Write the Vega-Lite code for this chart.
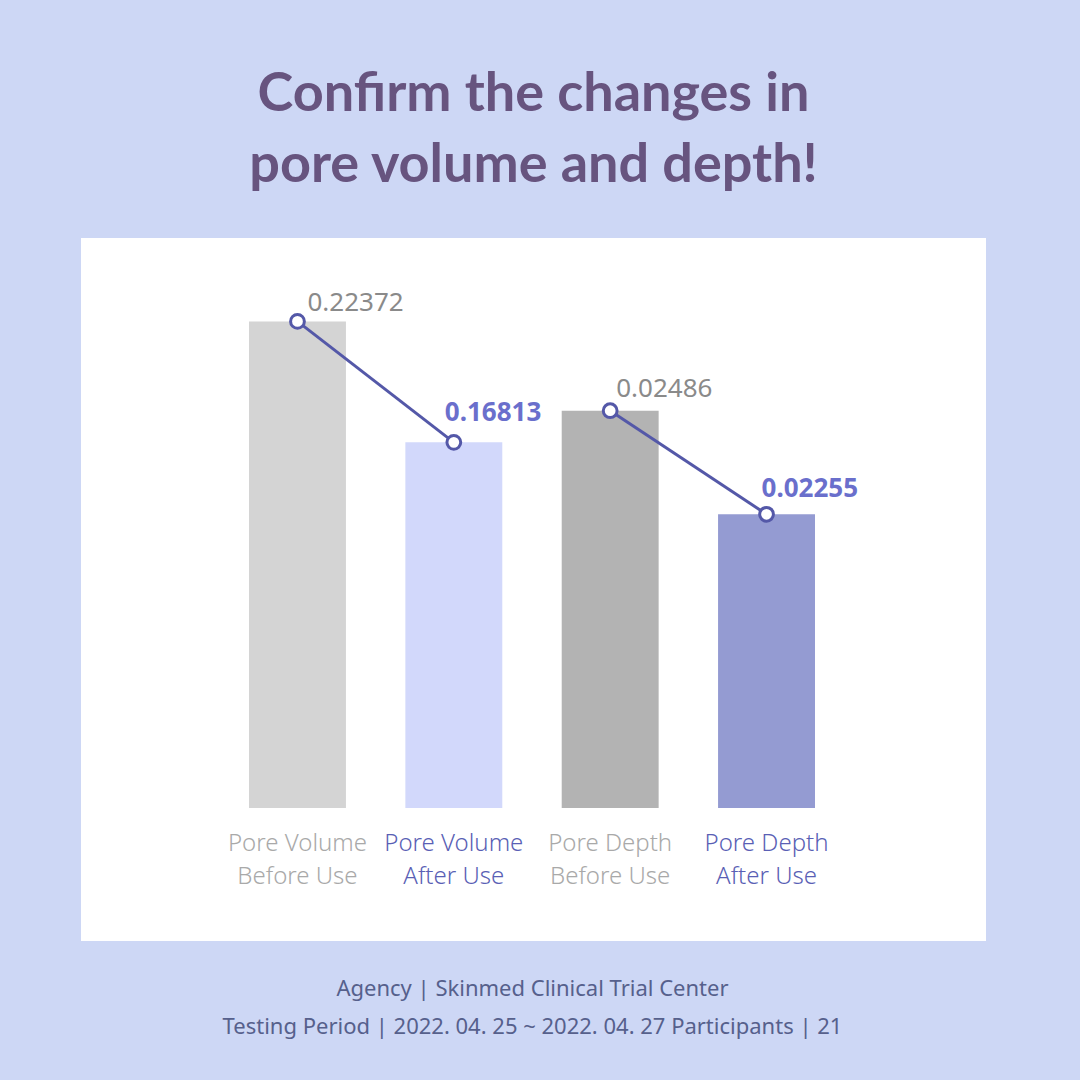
{
  "$schema": "https://vega.github.io/schema/vega-lite/v6.json",
  "width": 905,
  "height": 703,
  "autosize": {"type": "none"},
  "padding": {"left": 81, "top": 238, "right": 94, "bottom": 139},
  "background": "#cdd7f5",
  "view": {"fill": "white", "stroke": null},
  "title": {
    "text": ["Confirm the changes in", "pore volume and depth!"],
    "font": "Lato",
    "fontSize": 54,
    "fontWeight": "bold",
    "color": "#67547f",
    "anchor": "middle",
    "offset": 45,
    "lineHeight": 71
  },
  "data": {
    "values": [
      {"label": "Pore Volume Before Use", "measure": "Pore Volume", "phase": "Before", "value": 0.22372},
      {"label": "Pore Volume After Use", "measure": "Pore Volume", "phase": "After", "value": 0.16813},
      {"label": "Pore Depth Before Use", "measure": "Pore Depth", "phase": "Before", "value": 0.02486},
      {"label": "Pore Depth After Use", "measure": "Pore Depth", "phase": "After", "value": 0.02255}
    ]
  },
  "encoding": {
    "x": {
      "field": "label",
      "type": "nominal",
      "sort": ["Pore Volume Before Use", "Pore Volume After Use", "Pore Depth Before Use", "Pore Depth After Use"],
      "scale": {"range": [168, 734], "paddingInner": 0.38, "paddingOuter": 0},
      "axis": {
        "orient": "bottom",
        "offset": -133,
        "domain": false,
        "ticks": false,
        "grid": false,
        "labelAngle": 0,
        "labelOverlap": false,
        "labelFont": "Noto Sans",
        "labelFontSize": 24,
        "labelFontWeight": 300,
        "labelLineHeight": 33,
        "labelPadding": 23,
        "labelBaseline": "top",
        "labelExpr": "split(replace(replace(datum.label, ' Before', '|Before'), ' After', '|After'), '|')",
        "labelColor": {"condition": {"test": "indexof(datum.value, 'Before') >= 0", "value": "#a9a9a9"}, "value": "#5a5fb5"},
        "title": ["Agency | Skinmed Clinical Trial Center", "Testing Period  | 2022. 04. 25 ~ 2022. 04. 27 Participants | 21"],
        "titleFont": "Noto Sans",
        "titleFontSize": 22,
        "titleFontWeight": "normal",
        "titleColor": "#56608c",
        "titleLineHeight": 38,
        "titleBaseline": "alphabetic",
        "titleY": 187
      }
    }
  },
  "layer": [
    {
      "transform": [{"filter": "datum.measure == 'Pore Volume'"}],
      "encoding": {
        "y": {"field": "value", "type": "quantitative", "scale": {"domain": [-0.06115, 0.26207], "nice": false, "zero": false}, "axis": null}
      },
      "layer": [
        {
          "mark": {"type": "bar"},
          "encoding": {
            "color": {"field": "label", "type": "nominal", "scale": {"domain": ["Pore Volume Before Use", "Pore Volume After Use", "Pore Depth Before Use", "Pore Depth After Use"], "range": ["#d4d4d4", "#d2d8fb", "#b3b3b3", "#949bd2"]}, "legend": null}
          }
        },
        {
          "mark": {"type": "line", "color": "#5458a8", "strokeWidth": 3, "point": {"filled": false, "fill": "white", "size": 190, "strokeWidth": 3, "color": "#5458a8"}},
          "encoding": {}
        },
        {
          "transform": [{"filter": "datum.phase == 'Before'"}],
          "mark": {"type": "text", "align": "left", "baseline": "alphabetic", "dx": 10, "dy": -10, "font": "Noto Sans", "fontSize": 26, "color": "#8a8a8a"},
          "encoding": {"text": {"field": "value", "type": "quantitative", "format": ".5f"}}
        },
        {
          "transform": [{"filter": "datum.phase == 'After'"}],
          "mark": {"type": "text", "align": "left", "baseline": "alphabetic", "dx": -9, "dy": -21, "font": "Noto Sans", "fontSize": 26, "fontWeight": "bold", "color": "#6a6fcc"},
          "encoding": {"text": {"field": "value", "type": "quantitative", "format": ".5f"}}
        }
      ]
    },
    {
      "transform": [{"filter": "datum.measure == 'Pore Depth'"}],
      "encoding": {
        "y": {"field": "value", "type": "quantitative", "scale": {"domain": [0.013035, 0.028711], "nice": false, "zero": false}, "axis": null}
      },
      "layer": [
        {
          "mark": {"type": "bar"},
          "encoding": {
            "y2": {"datum": 0.016},
            "color": {"field": "label", "type": "nominal", "scale": {"domain": ["Pore Volume Before Use", "Pore Volume After Use", "Pore Depth Before Use", "Pore Depth After Use"], "range": ["#d4d4d4", "#d2d8fb", "#b3b3b3", "#949bd2"]}, "legend": null}
          }
        },
        {
          "mark": {"type": "line", "color": "#5458a8", "strokeWidth": 3, "point": {"filled": false, "fill": "white", "size": 190, "strokeWidth": 3, "color": "#5458a8"}},
          "encoding": {}
        },
        {
          "transform": [{"filter": "datum.phase == 'Before'"}],
          "mark": {"type": "text", "align": "left", "baseline": "alphabetic", "dx": 6, "dy": -14, "font": "Noto Sans", "fontSize": 26, "color": "#8a8a8a"},
          "encoding": {"text": {"field": "value", "type": "quantitative", "format": ".5f"}}
        },
        {
          "transform": [{"filter": "datum.phase == 'After'"}],
          "mark": {"type": "text", "align": "left", "baseline": "alphabetic", "dx": -5, "dy": -17, "font": "Noto Sans", "fontSize": 26, "fontWeight": "bold", "color": "#6a6fcc"},
          "encoding": {"text": {"field": "value", "type": "quantitative", "format": ".5f"}}
        }
      ]
    }
  ],
  "resolve": {"scale": {"y": "independent"}}
}
